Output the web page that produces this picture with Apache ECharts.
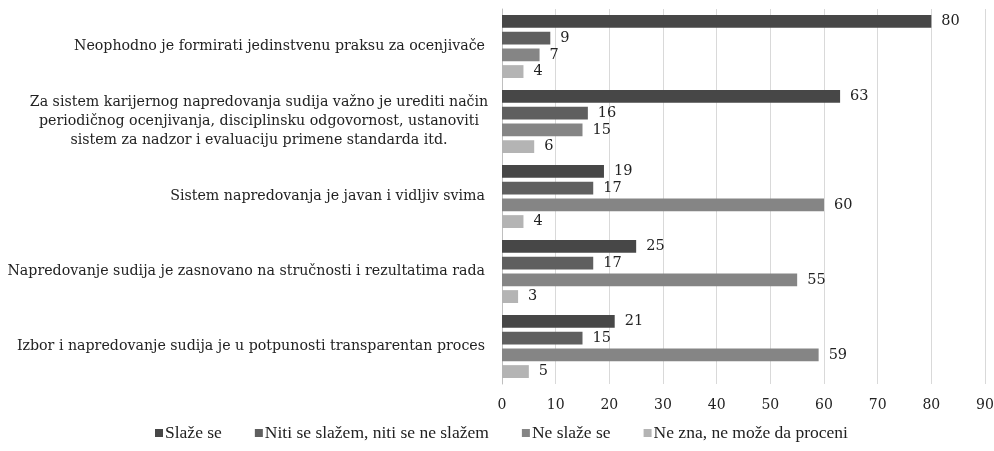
<!DOCTYPE html>
<html>
<head>
<meta charset="utf-8">
<script src="https://cdn.jsdelivr.net/npm/echarts@6/dist/echarts.min.js"></script>
<style>
  html, body { margin: 0; padding: 0; background: #fff; }
  #chart { width: 994px; height: 451px; }
</style>
</head>
<body>
<div id="chart"></div>
<script>
const categories = [
  'Neophodno je formirati jedinstvenu praksu za ocenjivače',
  'Za sistem karijernog napredovanja sudija važno je urediti način\nperiodičnog ocenjivanja, disciplinsku odgovornost, ustanoviti\nsistem za nadzor i evaluaciju primene standarda itd.',
  'Sistem napredovanja je javan i vidljiv svima',
  'Napredovanje sudija je zasnovano na stručnosti i rezultatima rada',
  'Izbor i napredovanje sudija je u potpunosti transparentan proces'
]
const seriesNames = [
  'Slaže se',
  'Niti se slažem, niti se ne slažem',
  'Ne slaže se',
  'Ne zna, ne može da proceni'
]
const slazeSe = [80, 63, 19, 25, 21]
const niti = [9, 16, 17, 17, 15]
const neSlazeSe = [7, 15, 60, 55, 59]
const neZna = [4, 6, 4, 3, 5]
const colors = ['#474747', '#5f5f5f', '#858585', '#b4b4b4']

const font = 'DejaVu Serif'
const font2 = 'Liberation Serif'
const el = document.getElementById('chart')
const chart = echarts.init(el)

const values = [slazeSe, niti, neSlazeSe, neZna]
const series = values.map((d, i) => ({
  name: seriesNames[i],
  type: 'bar',
  data: d,
  barGap: '30%',
  barCategoryGap: '16%',
  itemStyle: { color: colors[i] },
  label: {
    show: true,
    position: 'right',
    distance: 10,
    color: '#222',
    fontFamily: font,
    fontSize: 14.5
  }
}))

chart.setOption({
  animation: false,
  color: colors,
  textStyle: { fontFamily: font2 },
  grid: { left: 502, right: 9, top: 9, bottom: 67, containLabel: false, outerBoundsMode: 'none' },
  legend: {
    bottom: 4,
    left: 150,
    itemWidth: 8,
    itemHeight: 8,
    itemGap: 33,
    icon: 'rect',
    formatter: '{t|{name}}',
    textStyle: {
      fontFamily: font2,
      fontSize: 17.5,
      color: '#222',
      rich: { t: { fontFamily: font2, fontSize: 17.5, color: '#222', padding: [0, 0, 0, -3] } }
    }
  },
  xAxis: {
    type: 'value',
    min: 0,
    max: 90,
    interval: 10,
    axisLine: { show: false },
    axisTick: { show: false },
    splitLine: { lineStyle: { color: '#d9d9d9' } },
    axisLabel: { fontFamily: font, fontSize: 14, color: '#222', margin: 14 }
  },
  yAxis: {
    type: 'category',
    data: categories,
    inverse: true,
    axisLine: { lineStyle: { color: '#bfbfbf' } },
    axisTick: { show: false },
    axisLabel: {
      fontFamily: font,
      fontSize: 14.2,
      color: '#222',
      margin: 17,
      lineHeight: 19,
      formatter: (v) => v.indexOf('\n') >= 0 ? '{c|' + v + '}' : v,
      rich: { c: { align: 'center', width: 452, fontFamily: font, fontSize: 14.2, lineHeight: 19, color: '#222' } }
    }
  },
  series
})

window.addEventListener('resize', () => {
  chart.resize()
})
</script>
</body>
</html>
